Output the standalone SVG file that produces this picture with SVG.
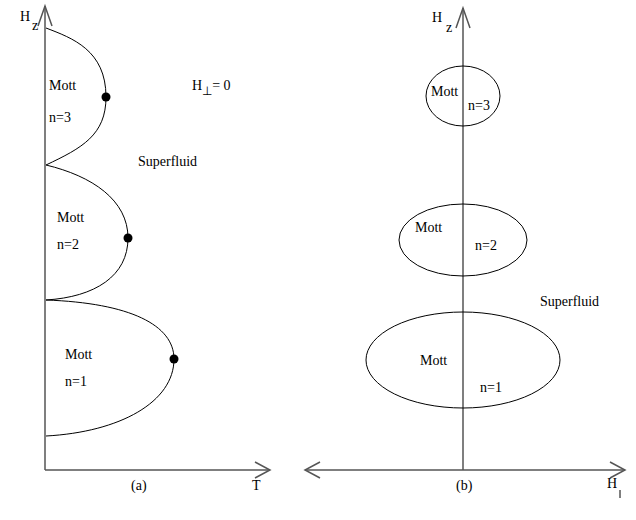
<svg xmlns="http://www.w3.org/2000/svg" width="636" height="520" viewBox="0 0 636 520">
<style>
  text { font-family: "Liberation Serif", "Times New Roman", serif; font-size: 14px; fill: #000; }
  .axis { stroke: #555; stroke-width: 1.5; fill: none; }
  .curve { stroke: #000; stroke-width: 1; fill: none; }
  .dot { fill: #000; }
</style>
<rect width="636" height="520" fill="#fff"/>
<g id="connectors">
  <path class="axis" d="M45,470 V6"/>
  <path class="axis" d="M38,26 L45,6 L52,26"/>
  <path class="axis" d="M45,470 H270"/>
  <path class="axis" d="M255,462 L270,470 L255,478"/>
  <path class="axis" d="M463,470 V8"/>
  <path class="axis" d="M456,28 L463,8 L470,28"/>
  <path class="axis" d="M305,470 H625"/>
  <path class="axis" d="M320,462 L305,470 L320,478"/>
  <path class="axis" d="M610,462 L625,470 L610,478"/>
</g>
<g id="lobe-n3">
  <path class="curve" d="M46,28 C72,38 106,50 106,97 C106,135 82,148 46,165"/>
  <circle class="dot" cx="106" cy="97" r="4.5"/>
  <text x="49" y="90">Mott</text>
  <text x="49" y="122">n=3</text>
</g>
<g id="lobe-n2">
  <path class="curve" d="M46,165 C92,176 128,200 128,238 C128,276 95,297 46,300"/>
  <circle class="dot" cx="128" cy="238" r="4.5"/>
  <text x="57" y="222">Mott</text>
  <text x="57" y="249">n=2</text>
</g>
<g id="lobe-n1">
  <path class="curve" d="M46,300 C130,303 174,325 174,359 C174,402 120,432 46,436"/>
  <circle class="dot" cx="174" cy="359" r="4.5"/>
  <text x="65" y="359">Mott</text>
  <text x="65" y="386">n=1</text>
</g>
<g id="labels-a">
  <text x="20" y="21">H</text>
  <text x="32" y="30" font-size="11">z</text>
  <text x="192" y="90">H<tspan font-size="12" dy="5">⊥</tspan><tspan dy="-5">= 0</tspan></text>
  <text x="138" y="166">Superfluid</text>
  <text x="252" y="490">T</text>
  <text x="131" y="490" font-size="12">(a)</text>
</g>
<g id="ellipse-n3">
  <ellipse class="curve" cx="463" cy="96" rx="37" ry="30"/>
  <text x="431" y="96">Mott</text>
  <text x="468" y="110">n=3</text>
</g>
<g id="ellipse-n2">
  <ellipse class="curve" cx="463" cy="240" rx="64" ry="36"/>
  <text x="415" y="232">Mott</text>
  <text x="475" y="250">n=2</text>
</g>
<g id="ellipse-n1">
  <ellipse class="curve" cx="463" cy="360" rx="97" ry="48"/>
  <text x="420" y="365">Mott</text>
  <text x="480" y="392">n=1</text>
</g>
<g id="labels-b">
  <text x="432" y="22">H</text>
  <text x="446" y="32" font-size="11">z</text>
  <text x="540" y="306">Superfluid</text>
  <text x="607" y="488">H</text>
  <path d="M620,490 V498" stroke="#000" stroke-width="1"/>
  <text x="456" y="490" font-size="12">(b)</text>
</g>
</svg>
